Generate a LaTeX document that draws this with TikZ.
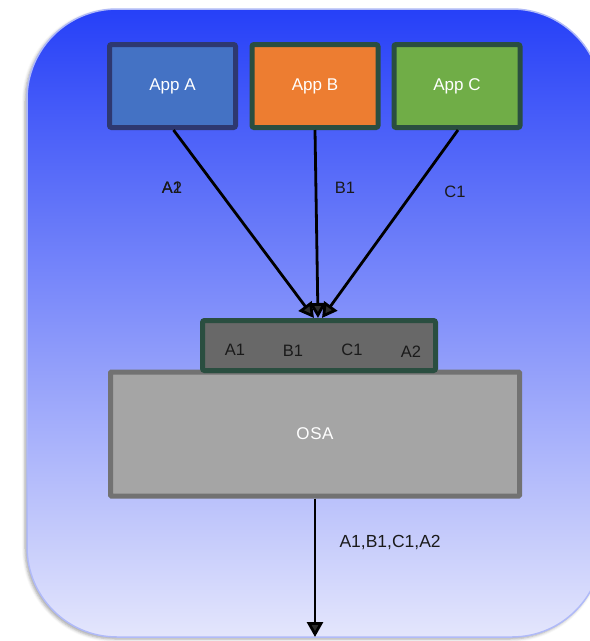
\documentclass[tikz,border=0pt]{standalone}
\usepackage{fontspec}
\setmainfont{Liberation Sans}
\usetikzlibrary{arrows.meta,shadows.blur}

\definecolor{bgtop}{RGB}{38,64,248}
\definecolor{bgbottom}{RGB}{228,230,252}
\definecolor{bgedge}{RGB}{176,186,248}
\definecolor{appafill}{RGB}{68,114,196}
\definecolor{appaedge}{RGB}{46,56,112}
\definecolor{appbfill}{RGB}{237,125,49}
\definecolor{appcfill}{RGB}{112,173,71}
\definecolor{darkgreen}{RGB}{42,78,64}
\definecolor{queuefill}{RGB}{104,104,104}
\definecolor{osafill}{RGB}{165,165,165}
\definecolor{osaedge}{RGB}{114,114,114}
\definecolor{labeltext}{RGB}{26,26,26}

\tikzset{
  appbox/.style={draw, line width=5pt, rounded corners=2pt, inner sep=0pt,
    minimum width=126pt, minimum height=83pt, text=white,
    font=\fontsize{17}{20}\selectfont},
  flow/.style={line width=2.8pt, -{Triangle[width=16pt,length=15pt]}},
  flowlabel/.style={text=labeltext, font=\fontsize{16.5}{19}\selectfont},
}

\begin{document}
\begin{tikzpicture}[x=1pt,y=-1pt]
\useasboundingbox (0,0) rectangle (590,641);
\clip (0,0) rectangle (590,641);

% rounded backdrop with vertical gradient
\shade[top color=bgtop, bottom color=bgbottom, draw=bgedge, line width=1.5pt,
  rounded corners=90pt,
  blur shadow={shadow xshift=-2pt, shadow yshift=-2pt, shadow blur radius=3pt, shadow opacity=35}]
  (27,9) rectangle (602,637);

% applications
\node[appbox, fill=appafill, draw=appaedge]   (appA) at (172.5,86) {App A};
\node[appbox, fill=appbfill, draw=darkgreen]  (appB) at (315,86)   {App B};
\node[appbox, fill=appcfill, draw=darkgreen]  (appC) at (457,86)   {App C};

% OS layer
\node[draw=osaedge, fill=osafill, line width=5pt, inner sep=0pt, rounded corners=1pt,
  minimum width=409pt, minimum height=124pt, text=white,
  font=\fontsize{17}{20}\selectfont] (osa) at (315,434) {O\kern0.6pt S\kern0.6pt A};

% shared queue sitting on top of the OS layer
\node[draw=darkgreen, fill=queuefill, line width=5pt, inner sep=0pt, rounded corners=2pt,
  minimum width=233pt, minimum height=50pt] (queue) at (319,345.5) {};
\node[flowlabel] (qa1) at (235,350) {A1};
\node[flowlabel] (qb1) at (293,351) {B1};
\node[flowlabel] (qc1) at (352,350) {C1};
\node[flowlabel] (qa2) at (411,352) {A2};

% application messages into the queue
\draw[flow] ([xshift=1pt]appA.south) -- ([xshift=-5pt]queue.north);
\draw[flow] (appB.south) -- ([xshift=-1pt]queue.north);
\draw[flow] ([xshift=1pt]appC.south) -- ([xshift=3pt]queue.north);

\node[flowlabel] (la1) at (172,188) {A1};
\node[flowlabel] (la2) at (172,188) {A2};
\node[flowlabel] (lb1) at (345,188) {B1};
\node[flowlabel] (lc1) at (455,192) {C1};

% ordered output
\coordinate (out) at (315,637);
\draw[flow] (osa.south) -- (out);
\node[flowlabel, anchor=west, font=\fontsize{17.5}{20}\selectfont] (lout) at (336,543) {A1,B1,C1,A2};
\end{tikzpicture}
\end{document}
